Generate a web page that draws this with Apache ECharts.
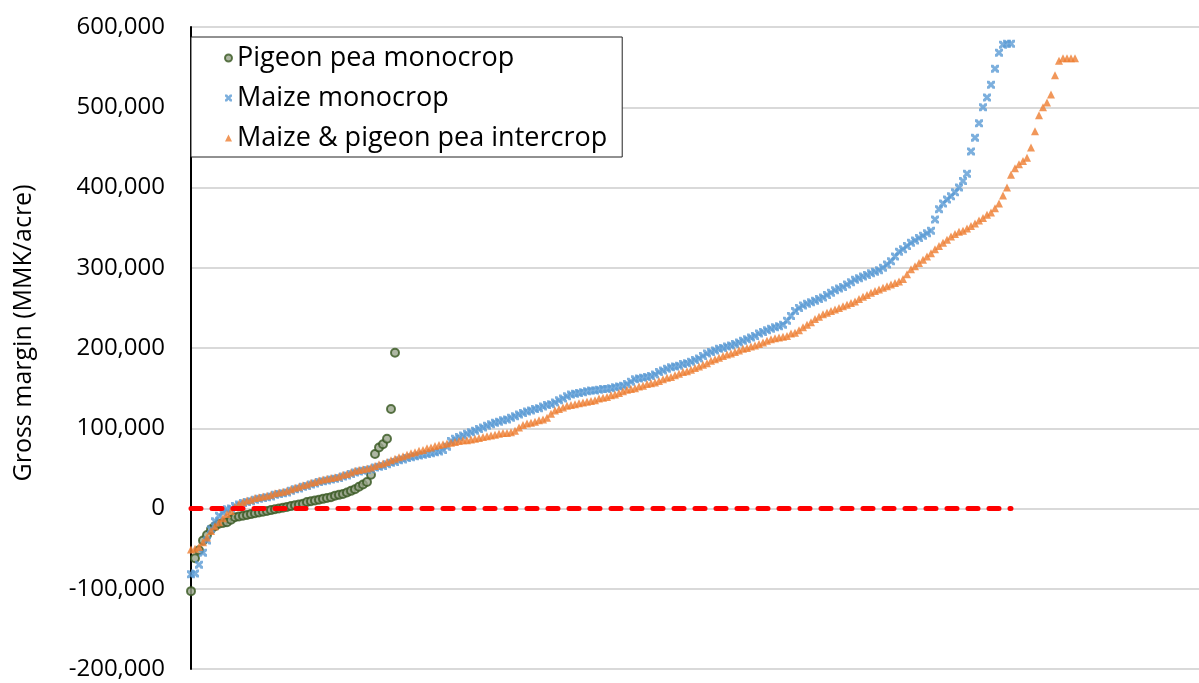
<!DOCTYPE html>
<html>
<head>
    <meta charset="utf-8">
    <script src="https://cdn.jsdelivr.net/npm/echarts@6/dist/echarts.min.js"></script>
    <style>
        html, body { margin: 0; padding: 0; background: #fff; }
        #chart { width: 1199px; height: 683px; }
    </style>
</head>
<body>
    <div id="chart"></div>
    <script>
        // gross margins, thousand MMK/acre, each series sorted from low to high (x = rank)
        let pigeonPeaMono = [
            -103, -62, -52, -40, -33, -26, -22, -19, -18, -17,
            -14, -11, -10, -9, -8, -7, -6, -5, -4, -3,
            -2, -1, 0, 1, 2, 3, 4, 5, 6, 8,
            9, 10, 11, 12, 13, 14, 16, 17, 18, 20,
            22, 24, 27, 30, 33, 42, 68, 76, 80, 87,
            124, 194
        ];

        let maizeMono = [
            -82, -81, -70, -55, -40, -26, -16, -9, -5, -1,
            0, 3, 5, 7, 8, 9, 11, 12, 13, 14,
            15, 17, 18, 19, 20, 22, 24, 25, 27, 28,
            30, 31, 33, 34, 35, 36, 37, 38, 40, 41,
            43, 45, 46, 47, 48, 49, 51, 52, 53, 55,
            57, 58, 60, 61, 63, 64, 65, 66, 67, 68,
            69, 70, 71, 73, 77, 84, 87, 89, 91, 93,
            95, 97, 99, 101, 103, 105, 107, 108, 110, 111,
            113, 115, 117, 119, 121, 122, 124, 125, 127, 129,
            130, 132, 135, 137, 140, 142, 143, 144, 145, 146,
            147, 147, 148, 149, 149, 150, 151, 152, 153, 155,
            158, 161, 162, 163, 164, 165, 167, 170, 172, 174,
            176, 177, 178, 180, 181, 183, 185, 187, 190, 193,
            195, 197, 199, 200, 202, 203, 205, 207, 209, 211,
            213, 215, 218, 220, 222, 224, 226, 227, 229, 234,
            240, 246, 250, 253, 255, 257, 259, 261, 263, 266,
            269, 272, 274, 276, 279, 282, 285, 287, 289, 291,
            293, 295, 297, 300, 304, 308, 314, 320, 323, 327,
            331, 334, 337, 340, 343, 346, 360, 373, 380, 385,
            389, 394, 400, 408, 417, 445, 462, 480, 500, 512,
            528, 548, 568, 578, 579, 579
        ];

        let intercrop = [
            -51, -50, -48, -42, -36, -28, -22, -17, -12, -7,
            -3, 2, 6, 8, 10, 11, 13, 14, 15, 16,
            17, 19, 20, 21, 22, 24, 26, 27, 29, 30,
            32, 33, 35, 36, 37, 38, 39, 40, 42, 43,
            45, 47, 48, 49, 50, 51, 53, 55, 56, 58,
            60, 62, 64, 65, 67, 69, 70, 72, 73, 75,
            76, 78, 79, 80, 81, 82, 83, 84, 85, 85,
            86, 87, 88, 89, 90, 91, 92, 93, 94, 94,
            95, 97, 101, 104, 106, 107, 108, 110, 111, 113,
            118, 122, 124, 126, 128, 129, 130, 131, 132, 133,
            134, 135, 137, 138, 139, 141, 142, 144, 146, 148,
            149, 150, 152, 153, 155, 156, 157, 159, 161, 163,
            164, 166, 168, 170, 171, 173, 175, 177, 179, 181,
            184, 186, 188, 190, 192, 193, 195, 197, 199, 200,
            202, 203, 205, 207, 209, 211, 212, 213, 214, 215,
            218, 219, 222, 226, 229, 232, 236, 239, 242, 244,
            246, 248, 250, 252, 254, 256, 258, 261, 264, 266,
            269, 271, 273, 275, 277, 279, 281, 283, 286, 292,
            298, 302, 306, 310, 314, 318, 323, 327, 331, 335,
            339, 342, 345, 346, 349, 352, 355, 359, 362, 366,
            369, 374, 380, 390, 400, 416, 424, 429, 433, 437,
            450, 470, 490, 500, 506, 516, 540, 558, 561, 561,
            561, 561
        ];

        let seriesNames = ['Pigeon pea monocrop', 'Maize monocrop', 'Maize & pigeon pea intercrop'];

        function toPoints(arr) {
            return arr.map((v, i) => [i, v * 1000]);
        }

        let xMark = 'path://M0,0 L3,0 L5,2.5 L7,0 L10,0 L10,3 L7.5,5 L10,7 L10,10 L7,10 L5,7.5 L3,10 L0,10 L0,7 L2.5,5 L0,3 Z';
        let font = 'Open Sans';

        var chart = echarts.init(document.getElementById('chart'));
        var option = {
            animation: false,
            textStyle: { fontFamily: font },
            grid: { left: 191, right: 0, top: 27, bottom: 14 },
            legend: {
                data: seriesNames,
                orient: 'vertical',
                left: 191,
                top: 37,
                padding: [6, 15, 4, 33],
                itemGap: 10,
                itemWidth: 7,
                itemHeight: 7,
                backgroundColor: '#fff',
                borderColor: '#222',
                borderWidth: 1,
                textStyle: { fontFamily: font, fontSize: 27, color: '#000', lineHeight: 30 }
            },
            xAxis: {
                type: 'value',
                min: 0,
                max: 252,
                axisLine: { show: false },
                axisTick: { show: false },
                axisLabel: { show: false },
                splitLine: { show: false }
            },
            yAxis: {
                type: 'value',
                min: -200000,
                max: 600000,
                interval: 100000,
                name: 'Gross margin (MMK/acre)',
                nameLocation: 'middle',
                nameGap: 155,
                nameTextStyle: { fontFamily: font, fontSize: 25, color: '#000', padding: [0, 0, 0, 30] },
                axisLine: { show: true, lineStyle: { color: '#000', width: 2 } },
                axisTick: { show: false },
                axisLabel: {
                    margin: 26,
                    fontFamily: font,
                    fontSize: 24,
                    color: '#000',
                    formatter: v => v.toLocaleString('en-US')
                },
                splitLine: { lineStyle: { color: '#d9d9d9', width: 2 } }
            },
            series: [
                {
                    name: seriesNames[0],
                    type: 'scatter',
                    data: toPoints(pigeonPeaMono),
                    symbol: 'circle',
                    symbolSize: 8,
                    itemStyle: { color: '#9aa58c', borderColor: '#375720', borderWidth: 2 }
                },
                {
                    name: seriesNames[1],
                    type: 'scatter',
                    data: toPoints(maizeMono),
                    symbol: xMark,
                    symbolSize: 8,
                    itemStyle: { color: '#5b9bd5' }
                },
                {
                    name: seriesNames[2],
                    type: 'scatter',
                    data: toPoints(intercrop),
                    symbol: 'triangle',
                    symbolSize: 8,
                    itemStyle: { color: '#ed7d31' }
                },
                {
                    name: 'zero',
                    type: 'line',
                    data: [[0, 0], [maizeMono.length - 1, 0]],
                    symbol: 'none',
                    silent: true,
                    z: 5,
                    lineStyle: { color: '#ff0000', width: 5, type: [10, 11], cap: 'round' }
                }
            ]
        };
        chart.setOption(option);
    </script>
</body>
</html>
